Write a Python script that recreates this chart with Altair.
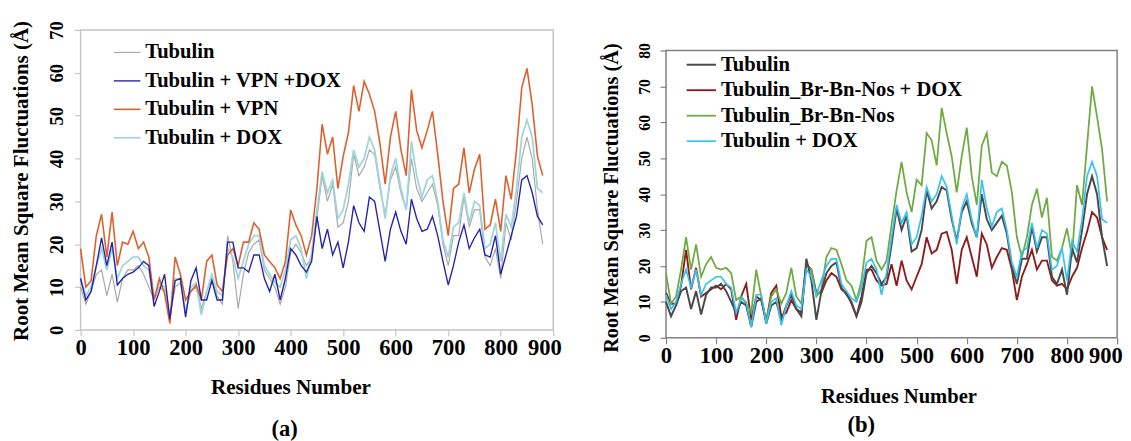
import altair as alt
import pandas as pd

FONT = "Liberation Serif"

# residue positions (sampled every 10 residues)
residues = list(range(0, 881, 10))

# ---- shared / panel (a) series ----
tubulin = [10, 6, 9, 13, 14, 8, 13, 6.5, 12, 14,
           14, 15, 13, 10, 7, 10, 9, 3, 10, 11,
           4, 9, 10, 5, 9, 12, 8, 6, 22, 16,
           5, 13, 18, 20, 21, 14, 12, 10, 6, 10,
           18, 20, 18, 15, 17, 26, 36, 30, 34, 24,
           25, 30, 41, 36, 38, 42, 41, 33, 27, 35,
           38, 32, 28, 40, 33, 30, 32, 34, 29, 20,
           15, 22, 22, 31, 24, 28, 28, 17, 15, 19,
           12, 25, 21, 30, 40, 45, 40, 28, 20]
tubulin_vpn_dox = [12, 7, 9, 15, 21.5, 15, 20.5, 10.5, 12, 13,
                   13.5, 14.5, 16, 15, 5.5, 9, 13, 2.5, 11.5, 12,
                   3, 11.5, 14.5, 7, 7, 11.5, 7, 7, 20.5, 20.5,
                   14.5, 14.5, 13.5, 17.5, 17.5, 12, 9, 13, 7, 12,
                   19, 17.5, 15, 13.5, 16, 26.5, 19, 23.5, 17.5, 20.5,
                   14.5, 20.5, 29, 25, 23, 31, 30, 23, 16, 23.5,
                   27.5, 23, 20, 30.5, 26, 23, 23.5, 26.5, 22, 16,
                   10.5, 15, 20.5, 24.5, 19, 21.5, 23.5, 17.5, 17, 22,
                   13, 17.5, 22, 26.5, 35, 36, 32, 26.5, 24.5]
tubulin_vpn = [19, 10, 11.5, 22, 27, 17, 27.5, 15, 20.5, 20,
               23, 19, 20.5, 17, 7, 12, 8.5, 1.5, 17, 13,
               7, 9, 10.5, 7, 16, 17.5, 10.5, 9, 17.5, 19,
               15, 20.5, 20.5, 25, 23.5, 17.5, 16, 14.5, 12, 16,
               28, 24.5, 22, 17.5, 22, 33, 48, 41, 45, 33,
               40.5, 46, 57, 51, 58, 55, 51, 43.5, 34, 45,
               51, 42, 36, 56, 46.5, 42.5, 46.5, 51, 41, 30,
               22, 33, 34, 42.5, 32, 37.5, 41, 23.5, 24.5, 30.5,
               23, 36, 30.5, 42, 56.5, 61, 52.5, 40.5, 36]
tubulin_dox = [12, 8, 10, 15, 19, 14, 19, 12, 15, 16,
               17, 17, 15, 14, 7, 11, 10, 3, 12, 12,
               4, 10, 11, 3.5, 9, 13, 9, 8, 19, 17,
               12, 16, 20, 22, 22, 15, 13, 11, 10, 14,
               21, 22, 19, 12, 18, 28, 37, 32, 35, 26,
               28, 34, 42, 38, 40, 45, 42, 34, 26, 36,
               40, 33, 28, 44, 36, 31, 35, 36, 30, 21,
               17, 24, 25, 32, 25, 30, 29, 19, 20, 25,
               16, 27, 24, 33, 45, 49, 45, 33, 32]

# ---- panel (b) series ----
br_bn_nos_dox = [12.5, 9.5, 9.5, 14.5, 24.5, 13.5, 19.5, 11.5, 12.5, 13.5,
                 14.5, 13.5, 15, 13.5, 5, 11.5, 15, 5, 11.5, 10.5,
                 4.5, 12.5, 14.5, 6, 7, 10.5, 8, 7, 20.5, 19,
                 12.5, 12.5, 16, 18, 17, 13.5, 12.5, 9.5, 6, 11.5,
                 19, 19, 16, 14.5, 15, 20.5, 14.5, 21.5, 16, 13.5,
                 17, 20.5, 28, 23.5, 24.5, 29, 29.5, 24.5, 15, 24.5,
                 28, 22.5, 17, 29, 26, 19.5, 22.5, 25, 24.5, 19,
                 10.5, 17, 20.5, 24.5, 19, 21.5, 21.5, 16, 14.5, 15,
                 13.5, 17, 19.5, 25, 29.5, 35, 33.5, 28, 24.5]
br_bn_nos = [18, 9.5, 11.5, 19, 28, 19, 26, 17, 20.5, 22.5,
             19.5, 19, 19.5, 18, 10.5, 11.5, 9.5, 7, 19, 11.5,
             4.5, 11.5, 13.5, 9.5, 12.5, 19.5, 11.5, 9.5, 20.5, 19,
             11.5, 13.5, 22.5, 25, 24.5, 20.5, 16, 14.5, 10.5, 16,
             27, 28, 21.5, 19, 21.5, 31.5, 41, 49, 40.5, 35,
             44, 42.5, 57, 55, 48, 64, 57, 50.5, 40.5, 50.5,
             58.5, 45, 37, 53.5, 57, 46, 45, 49, 48, 40.5,
             28, 22.5, 28, 37, 41.5, 33.5, 39, 22.5, 21.5, 25,
             30.5, 22.5, 42.5, 37, 53.5, 70, 61.5, 52.5, 38]

names_a = ["Tubulin", "Tubulin + VPN +DOX", "Tubulin + VPN", "Tubulin + DOX"]
colors_a = ["#a8a8a8", "#2424aa", "#dd5f2c", "#9ed6dc"]
widths_a = [1.2, 1.8, 1.8, 1.4]
values_a = {"Tubulin": tubulin, "Tubulin + VPN +DOX": tubulin_vpn_dox,
            "Tubulin + VPN": tubulin_vpn, "Tubulin + DOX": tubulin_dox}
draw_a = ["Tubulin", "Tubulin + DOX", "Tubulin + VPN", "Tubulin + VPN +DOX"]

names_b = ["Tubulin", "Tubulin_Br-Bn-Nos + DOX", "Tubulin_Br-Bn-Nos", "Tubulin + DOX"]
colors_b = ["#4a4a4a", "#8e1c1c", "#6faa42", "#34c3f0"]
widths_b = [2.0, 1.7, 1.7, 2.6]
values_b = {"Tubulin": tubulin, "Tubulin_Br-Bn-Nos + DOX": br_bn_nos_dox,
            "Tubulin_Br-Bn-Nos": br_bn_nos, "Tubulin + DOX": tubulin_dox}
draw_b = ["Tubulin_Br-Bn-Nos + DOX", "Tubulin_Br-Bn-Nos", "Tubulin", "Tubulin + DOX"]


def long_df(values, order, tag):
    rows = []
    for k, name in enumerate(order):
        for r, v in zip(residues, values[name]):
            rows.append({"res": r, "rmsf": v, tag: name, "draw": k})
    return pd.DataFrame(rows)


def panel(tag, values, order, names, colors, widths, ymax, w, h, frame_color,
          ylab_size, ylab_pad, last_shift, xtitle_size, xtitle_x, xtitle_y,
          ytitle_size, ytitle_x, ytitle_y, leg_x, leg_y, leg_sym, leg_row,
          caption, cap_offset, cap_dx, spacer_x, spacer_y):
    df = long_df(values, order, tag)
    x_axis = alt.Axis(
        values=list(range(0, 901, 100)), grid=False, domain=False,
        tickSize=6, tickColor=frame_color, tickWidth=1.2,
        labelFont=FONT, labelFontSize=23, labelFontWeight="bold",
        labelColor="black", labelPadding=1, labelOverlap=False,
        labelAlign="center",
        labelOffset={"condition": {"test": "datum.value === 900",
                                   "value": last_shift}, "value": 0},
        title="Residues Number", titleFont=FONT, titleFontSize=xtitle_size,
        titleFontWeight="bold", titleColor="black", titleX=xtitle_x,
        titleY=xtitle_y, titleBaseline="middle", titleAlign="center")
    y_axis = alt.Axis(
        values=list(range(0, ymax + 1, 10)), grid=False, domain=False,
        tickSize=6, tickColor=frame_color, tickWidth=1.2,
        labelFont=FONT, labelFontSize=ylab_size, labelFontWeight="bold",
        labelColor="black", labelAngle=270, labelAlign="center",
        labelBaseline="middle", labelPadding=ylab_pad, labelOverlap=False,
        title="Root Mean Square Fluctuations (Å)", titleFont=FONT,
        titleFontSize=ytitle_size, titleFontWeight="bold", titleColor="black",
        titleAngle=270, titleX=ytitle_x, titleY=ytitle_y,
        titleBaseline="middle", titleAlign="center")
    legend = alt.Legend(
        orient="none", legendX=leg_x, legendY=leg_y, title=None,
        symbolType="stroke", symbolSize=leg_sym, labelFont=FONT,
        labelFontSize=21, labelFontWeight="bold", labelColor="black",
        labelOffset=4, rowPadding=leg_row, padding=0, labelLimit=400)
    lines = alt.Chart(df).mark_line(interpolate="linear").encode(
        x=alt.X("res:Q", scale=alt.Scale(domain=[0, 900], nice=False), axis=x_axis),
        y=alt.Y("rmsf:Q", scale=alt.Scale(domain=[0, ymax], nice=False), axis=y_axis),
        color=alt.Color(f"{tag}:N", scale=alt.Scale(domain=names, range=colors),
                        legend=legend),
        strokeWidth=alt.StrokeWidth(f"{tag}:N",
                                    scale=alt.Scale(domain=names, range=widths),
                                    legend=legend),
        order=alt.Order("draw:Q"),
    )
    spacer = alt.Chart(pd.DataFrame({"k": [0]})).mark_rule(
        color="white", strokeWidth=1).encode(
        x=alt.value(spacer_x), x2=alt.value(0), y=alt.value(spacer_y))
    return alt.layer(lines, spacer).properties(
        width=w, height=h,
        view=alt.ViewBackground(stroke=frame_color, strokeWidth=1.5),
        title=alt.Title(caption, orient="bottom", font=FONT, fontSize=23,
                        fontWeight="bold", color="black", offset=cap_offset,
                        dx=cap_dx, anchor="middle", frame="group"),
    )


pa = panel("series_a", values_a, draw_a, names_a, colors_a, widths_a, 70, 482, 306,
           "#c4c4c4", 19, 18, -9, 21.5, 214, 59, 21.4, -60, 153.5, 33, 8.5, 729, 4,
           "(a)", 21, -33, -72, -16)
pb = panel("series_b", values_b, draw_b, names_b, colors_b, widths_b, 80, 460, 293,
           "#808080", 16, 16, -12, 21, 237, 60, 20.7, -55, 150, 20, 19.5, 900, -1,
           "(b)", 8, -31, -70, -10)

top_gap = alt.Chart(pd.DataFrame({"k": [0]})).mark_rule(
    color="white", strokeWidth=1).encode(
    x=alt.value(0), x2=alt.value(1), y=alt.value(0)).properties(
    width=1, height=9, view=alt.ViewBackground(stroke="white", strokeWidth=0))

right = alt.vconcat(top_gap, pb, spacing=0)

chart = alt.hconcat(pa, right, spacing=34).properties(padding=0).resolve_scale(
    color="independent", strokeWidth="independent").resolve_legend(
    color="independent", strokeWidth="independent").configure(background="white")

chart.save("out.html", embed_options={"renderer": "svg", "actions": False})
